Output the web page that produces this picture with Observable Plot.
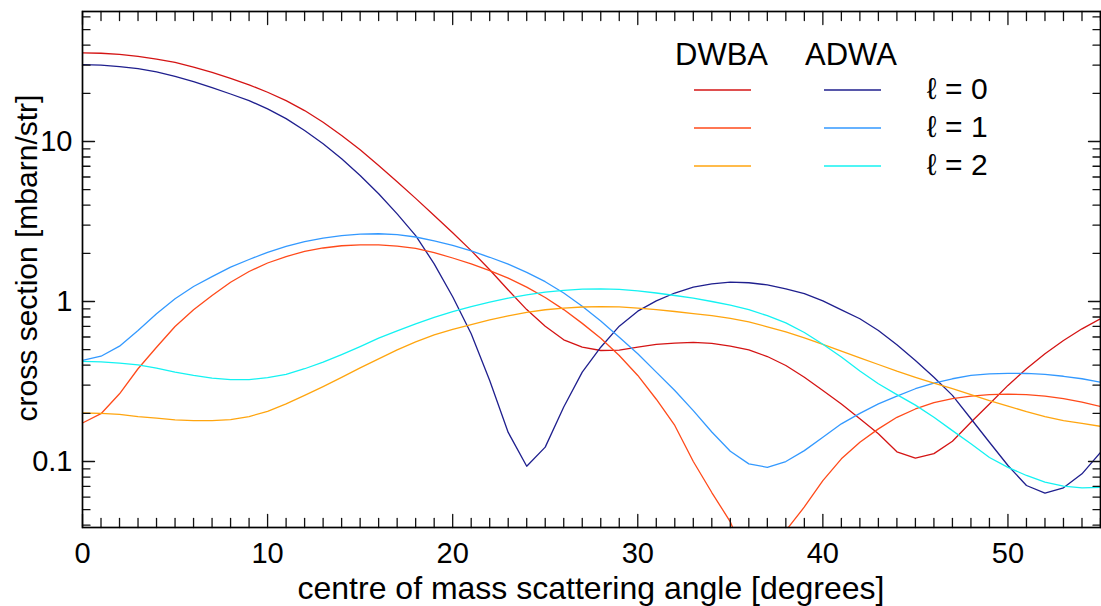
<!DOCTYPE html>
<html>
<head>
<meta charset="utf-8">
<script src="https://cdn.jsdelivr.net/npm/d3@7"></script>
<script src="https://cdn.jsdelivr.net/npm/@observablehq/plot@0.6"></script>
<style>
  html, body { margin: 0; padding: 0; background: #fff; }
</style>
</head>
<body>
<div id="chart"></div>
<script>
// ---- data ----
const angles = [0,1,2,3,4,5,6,7,8,9,10,11,12,13,14,15,16,17,18,19,20,21,22,23,24,25,26,27,28,29,30,31,32,33,34,35,36,37,38,39,40,41,42,43,44,45,46,47,48,49,50,51,52,53,54,55];

const dwbaL0 = [35.8,35.6,35.0,34.0,32.7,31.2,29.2,27.0,24.8,22.6,
  20.3,18.0,15.6,13.2,10.9,8.87,7.08,5.6,4.41,3.45,
  2.69,2.08,1.58,1.18,0.89,0.70,0.576,0.518,0.494,0.497,
  0.518,0.539,0.55,0.555,0.548,0.526,0.499,0.453,0.398,0.336,
  0.278,0.229,0.185,0.149,0.115,0.105,0.112,0.134,0.176,0.229,
  0.299,0.38,0.471,0.57,0.675,0.78];

const adwaL0 = [30.2,30.0,29.4,28.5,27.2,25.5,23.7,21.7,19.8,18.0,
  16.0,13.9,11.7,9.68,7.8,6.13,4.71,3.53,2.58,1.72,
  1.07,0.628,0.321,0.152,0.0935,0.123,0.219,0.362,0.518,0.701,
  0.87,1.01,1.13,1.23,1.29,1.32,1.31,1.27,1.2,1.12,
  1.01,0.887,0.78,0.659,0.536,0.428,0.336,0.259,0.185,0.132,
  0.0944,0.0708,0.0634,0.0685,0.0838,0.114];

const dwbaL1 = [0.174,0.199,0.265,0.38,0.518,0.698,0.887,1.09,1.32,1.54,
  1.74,1.91,2.06,2.16,2.23,2.26,2.26,2.22,2.15,2.02,
  1.87,1.72,1.56,1.40,1.23,1.06,0.89,0.73,0.59,0.46,
  0.345,0.245,0.168,0.1,0.064,0.042,0.022,0.02,0.037,0.052,
  0.076,0.104,0.132,0.16,0.189,0.213,0.233,0.247,0.256,0.262,
  0.264,0.262,0.256,0.247,0.235,0.221];

const adwaL1 = [0.428,0.455,0.526,0.659,0.838,1.04,1.24,1.43,1.64,1.83,
  2.03,2.21,2.37,2.49,2.58,2.64,2.65,2.62,2.53,2.39,
  2.24,2.07,1.89,1.71,1.52,1.33,1.13,0.935,0.755,0.598,
  0.471,0.362,0.278,0.208,0.153,0.116,0.0967,0.092,0.1,0.117,
  0.142,0.172,0.2,0.229,0.256,0.285,0.309,0.329,0.345,0.353,
  0.355,0.355,0.35,0.341,0.329,0.313];

const dwbaL2 = [0.201,0.2,0.197,0.191,0.187,0.182,0.18,0.18,0.183,0.191,
  0.206,0.229,0.259,0.294,0.336,0.385,0.438,0.499,0.56,0.619,
  0.67,0.718,0.768,0.814,0.855,0.888,0.91,0.924,0.93,0.925,
  0.91,0.89,0.866,0.84,0.815,0.785,0.745,0.695,0.645,0.593,
  0.539,0.49,0.445,0.404,0.367,0.336,0.309,0.285,0.262,0.24,
  0.222,0.205,0.191,0.18,0.173,0.166];

const adwaL2 = [0.422,0.42,0.412,0.402,0.383,0.362,0.345,0.332,0.325,0.325,
  0.334,0.35,0.38,0.418,0.466,0.523,0.59,0.655,0.725,0.795,
  0.865,0.93,0.99,1.05,1.1,1.145,1.175,1.195,1.2,1.19,
  1.165,1.13,1.09,1.05,1.0,0.95,0.89,0.815,0.735,0.64,
  0.54,0.45,0.368,0.306,0.262,0.225,0.189,0.156,0.129,0.106,
  0.092,0.0818,0.0743,0.0701,0.0685,0.069];

const xTickLabels = [0, 10, 20, 30, 40, 50];
const yTickLabels = [0.1, 1, 10];
const legendModels = ["DWBA", "ADWA"];
const legendL = ["\u2113 = 0", "\u2113 = 1", "\u2113 = 2"];
const xTitle = "centre of mass scattering angle [degrees]";
const yTitle = "cross section [mbarn/str]";

// ---- series table ----
const seriesColors = {
  dwbaL0: "#d41414", adwaL0: "#1f1f8e",
  dwbaL1: "#ff4a1a", adwaL1: "#3399ff",
  dwbaL2: "#ffa50f", adwaL2: "#14f2f2"
};
const seriesList = [
  {key: "dwbaL0", values: dwbaL0}, {key: "adwaL0", values: adwaL0},
  {key: "dwbaL1", values: dwbaL1}, {key: "adwaL1", values: adwaL1},
  {key: "dwbaL2", values: dwbaL2}, {key: "adwaL2", values: adwaL2}
];
const rows = seriesList.flatMap(s => angles.map((a, i) => ({series: s.key, angle: a, value: s.values[i]})));

// tick positions
const xMinor = angles.filter(a => a % 10 !== 0);
const xMajor = xTickLabels;
const yMajor = yTickLabels;
const yMinor = [];
for (const dec of [0.01, 0.1, 1, 10]) for (let m = 2; m <= 9; m++) {
  const v = +(m * dec).toPrecision(3);
  if (v >= 0.0387 && v <= 64.9) yMinor.push(v);
}

const tickShape = {draw(context, length) { context.moveTo(0, 0); context.lineTo(0, -length); }};
const tk = (fn, data, opts) => fn(data, {shape: tickShape, anchor: "start", stroke: "#111", strokeWidth: 1.3, ...opts});

const FONT = "'Liberation Sans', Arial, Helvetica, 'DejaVu Sans', sans-serif";

const plot = Plot.plot({
  width: 1101,
  height: 606,
  marginLeft: 82,
  marginRight: 1,
  marginTop: 11,
  marginBottom: 79,
  style: {fontFamily: FONT, fontSize: "29px", background: "#fff", color: "#000"},
  x: {domain: [0, 55]},
  y: {type: "log", domain: [0.0387, 64.9]},
  color: {domain: Object.keys(seriesColors), range: Object.values(seriesColors)},
  marks: [
    Plot.line(rows, {x: "angle", y: "value", z: "series", stroke: "series", strokeWidth: 1.3, clip: true}),
    // inward ticks
    tk(Plot.vectorX, xMinor, {x: d => d, frameAnchor: "bottom", length: 9, rotate: 0}),
    tk(Plot.vectorX, xMajor, {x: d => d, frameAnchor: "bottom", length: 13, rotate: 0}),
    tk(Plot.vectorX, xMinor, {x: d => d, frameAnchor: "top", length: 9, rotate: 180}),
    tk(Plot.vectorX, xMajor, {x: d => d, frameAnchor: "top", length: 13, rotate: 180}),
    tk(Plot.vectorY, yMinor, {y: d => d, frameAnchor: "left", length: 7.5, rotate: 90}),
    tk(Plot.vectorY, yMajor, {y: d => d, frameAnchor: "left", length: 12, rotate: 90}),
    tk(Plot.vectorY, yMinor, {y: d => d, frameAnchor: "right", length: 7.5, rotate: -90}),
    tk(Plot.vectorY, yMajor, {y: d => d, frameAnchor: "right", length: 12, rotate: -90}),
    Plot.axisX({ticks: xTickLabels, tickSize: 0, tickPadding: 15, label: null, tickFormat: d => String(d), fontSize: 29}),
    Plot.axisY({ticks: yTickLabels, tickSize: 0, tickPadding: 10, label: null, tickFormat: d => String(d), fontSize: 29}),
    Plot.frame({stroke: "#000", strokeWidth: 1.7})
  ]
});

document.getElementById("chart").appendChild(plot);

// ---- titles and legend ----
const svg = d3.select(plot);
svg.append("text")
  .attr("x", 591).attr("y", 599)
  .attr("text-anchor", "middle")
  .attr("font-family", FONT).attr("font-size", 32).attr("fill", "#000")
  .text(xTitle);
svg.append("text")
  .attr("transform", "translate(37,258) rotate(-90)")
  .attr("text-anchor", "middle")
  .attr("font-family", FONT).attr("font-size", 30).attr("fill", "#000")
  .text(yTitle);

const lg = svg.append("g").attr("font-family", FONT).attr("fill", "#000").attr("text-anchor", "start");
const colX = [675, 805];
const lineX = [[694, 751], [824, 881]];
const rowY = [90, 128, 166];
const keys = [["dwbaL0", "dwbaL1", "dwbaL2"], ["adwaL0", "adwaL1", "adwaL2"]];
legendModels.forEach((m, c) => {
  lg.append("text").attr("x", colX[c]).attr("y", 65).attr("font-size", 31).attr("text-anchor", "start").text(m);
  rowY.forEach((yy, r) => {
    lg.append("line")
      .attr("x1", lineX[c][0]).attr("x2", lineX[c][1])
      .attr("y1", yy).attr("y2", yy)
      .attr("stroke", seriesColors[keys[c][r]]).attr("stroke-width", 1.3);
  });
});
legendL.forEach((t, r) => {
  lg.append("text").attr("x", 927).attr("y", rowY[r] + 9).attr("font-size", 30).attr("text-anchor", "start").text(t);
});
</script>
</body>
</html>
